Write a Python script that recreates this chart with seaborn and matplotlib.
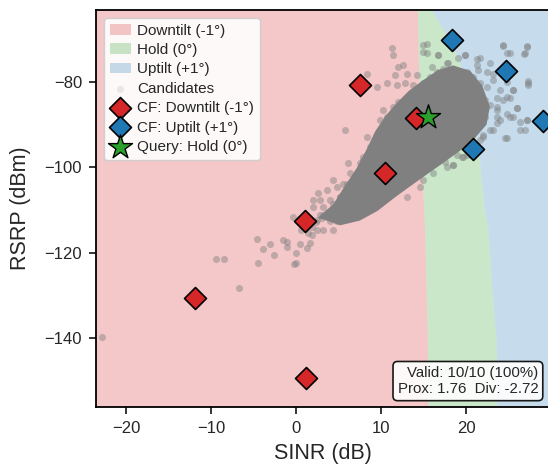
import matplotlib
matplotlib.use("Agg")
import matplotlib.pyplot as plt
import seaborn as sns

sns.set_style("ticks")
plt.rcParams["font.family"] = ["Liberation Sans", "DejaVu Sans"]

# decision regions: boundaries (SINR at given RSRP)
hold_edge_rsrp = [-160, -140, -115, -107, -95, -80, -60]
hold_edge_sinr = [15.6, 15.5, 15.2, 15.0, 14.8, 14.5, 14.3]
up_edge_rsrp = [-160, -141.3, -125.8, -114, -110, -100, -94.3, -84.2, -74.8, -70.1, -66.6, -63.1, -60]
up_edge_sinr = [23.7, 23.6, 23.0, 22.6, 22.2, 21.7, 21.4, 20.5, 19.2, 18.1, 17.0, 16.0, 15.2]

# dense core of the candidate cloud (outline)
core_sinr = [2.6, 4.4, 5.6, 7.1, 8.3, 9.3, 10.5, 11.9, 13.3, 15.0, 16.7, 18.5, 20.5, 21.9,
             22.8, 22.4, 21.1, 19.5, 17.5, 15.5, 13.6, 11.6, 9.6, 7.5, 5.2]
core_rsrp = [-111.8, -108.6, -104.8, -100.3, -95.8, -91.6, -88.0, -84.8, -82.0, -79.5,
             -77.2, -76.1, -77.4, -80.8, -85.8, -90.0, -93.0, -95.8, -98.7, -101.5,
             -104.2, -107.1, -110.2, -112.5, -113.6]

# scattered candidates around the core
cand_sinr = [11.25, 11.45, 12.04, 12.63, 13.02, 11.65, 10.67, 9.49, 8.31, 11.84, 12.82,
             14.20, 13.80, 14.98, 15.37, 16.75, 17.73, 15.96,
             19.88, 21.25, 21.65, 22.82, 23.22, 22.43, 24.0, 24.78, 25.57, 23.61, 24.78,
             25.57, 25.96, 27.14, 26.35, 24.78, 23.22, 22.04, 23.61, 27.33, 26.94, 27.14,
             24.39, 25.18,
             5.76, 8.31, 9.88, 10.27, 10.67, 8.71, 7.92, 7.53, 6.35, 5.96, 5.18, 4.39,
             2.82, 2.04, 3.61, 4.0, 5.37, 6.35, 7.14, 9.10,
             13.02, 14.59, 14.98, 16.16, 17.73, 18.51, 19.49, 20.08, 21.65,
             -4.63, -3.92, -3.06, -1.49, -1.02, -1.02, -0.39, 0.0, -0.04, 0.47, 1.25,
             1.65, 1.84, 2.43, 3.22, 4.39, 4.78, 3.80, 3.22, 4.0, 2.04, 2.63, 3.61, 4.78,
             5.57, 6.16, 7.14, 7.92, 8.31, 9.10, 8.71, 6.35, 7.14, 6.16, 2.82, 4.39, 5.18,
             7.53, 8.31,
             -22.8, -6.67, -9.45, -8.47, -4.51, -2.63, -0.3,
             15.37, 14.98, 16.75, 17.92, 19.10, 19.88, 21.25, 24.39, 24.86, 27.14, 26.82,
             20.08, 21.45, 22.43, 23.22, 24.78, 25.57, 24.39, 25.18, 23.61, 22.82, 23.61,
             22.24, 25.96, 24.0, 25.18, 26.35, 27.14, 27.33, 27.33, 26.9, 24.59, 23.61,
             22.82, 22.04, 19.69, 18.51, 18.90, 17.53,
             9.49, 10.27, 11.06, 9.88, 9.10, 8.71, 11.84, 12.43, 13.02, 13.80, 14.59,
             15.37, 16.16, 16.94, 17.73, 11.45, 12.04, 13.41, 14.20, 14.98, 15.76, 16.55,
             17.33, 10.67, 8.31, 7.92, 7.53, 6.75, 5.96, 5.18, 4.39, 3.22, 2.43, 1.65,
             21.25, 20.67, 19.69, 18.51, 17.73, 16.55, 15.76, 14.59, 13.80, 12.63, 11.45,
             10.27, 9.49, 8.31, 7.53, 22.04, 22.24, 21.65, 20.86, 19.69,
             1.2, 0.6, 1.9, 2.3, 3.0, 1.4]
cand_rsrp = [-71.9, -73.7, -76.4, -76.0, -78.0, -78.4, -80.3, -81.1, -78.0, -80.7, -80.3,
             -78.4, -80.7, -71.3, -73.3, -73.7, -75.6, -76.4,
             -73.7, -76.0, -74.4, -75.6, -78.0, -81.1, -81.9, -83.4, -81.9, -85.8, -87.4,
             -88.1, -86.2, -88.9, -91.3, -93.2, -91.3, -92.8, -88.1, -80.3, -73.3, -71.7,
             -71.3, -73.3,
             -91.3, -92.8, -88.9, -86.6, -91.3, -95.2, -97.5, -99.1, -101.4, -103.8,
             -106.9, -108.5, -107.7, -109.2, -110.8, -112.7, -110.4, -110.0, -110.8, -106.9,
             -106.9, -104.6, -103.0, -101.4, -99.9, -99.5, -97.5, -97.1, -93.6,
             -116.9, -119.1, -118.1, -117.1, -117.5, -118.7, -111.6, -122.4, -120.2, -118.0,
             -119.0, -117.7, -115.9, -114.7, -114.7, -114.7, -112.6, -110.4, -109.3, -107.7,
             -107.7, -106.1, -105.3, -104.6, -103.8, -99.1, -101.4, -98.3, -97.1, -99.1,
             -100.7, -106.1, -108.5, -112.0, -111.2, -103.0, -106.9, -105.3, -103.0,
             -139.9, -128.3, -121.6, -121.6, -122.5, -120.6, -122.6,
             -71.1, -72.9, -73.7, -75.6, -74.4, -73.7, -74.7, -71.5, -73.1, -71.5, -73.5,
             -77.6, -77.2, -77.6, -79.5, -79.9, -81.9, -84.2, -83.8, -83.8, -85.4, -86.6,
             -88.1, -86.2, -88.9, -88.1, -89.3, -88.9, -80.7, -79.8, -91.3, -93.2, -89.7,
             -91.3, -92.4, -97.5, -99.5, -97.1, -98.7,
             -93.6, -92.1, -90.5, -95.2, -96.7, -99.1, -88.1, -87.0, -85.4, -84.2, -83.1,
             -81.9, -80.3, -78.7, -78.0, -85.8, -84.6, -82.7, -81.9, -80.3, -78.7, -77.6,
             -77.0, -88.1, -100.7, -102.2, -103.8, -105.4, -106.9, -108.5, -109.7, -111.2,
             -112.4, -113.2,
             -90.5, -92.4, -93.6, -95.6, -96.7, -98.3, -99.5, -101.0, -102.2, -103.8, -105.4,
             -106.9, -108.1, -109.3, -110.0, -87.4, -84.2, -80.3, -78.7, -77.6,
             -113.5, -114.6, -113.9, -112.9, -112.0, -115.4]

# counterfactuals and query
cf_down_sinr = [7.57, 14.15, 10.47, 1.06, -11.9, 1.18]
cf_down_rsrp = [-80.8, -88.4, -101.4, -112.5, -130.6, -149.5]
cf_up_sinr = [18.35, 24.7, 29.1, 20.86]
cf_up_rsrp = [-70.1, -77.4, -89.2, -95.6]
query_sinr = [15.56]
query_rsrp = [-88.1]

x_min, x_max = -23.53, 29.88
y_min, y_max = -156.3, -63.1

red, green, blue = "#d62728", "#2ca02c", "#1f77b4"

fig = plt.figure(figsize=(5.48, 4.68), dpi=100)
ax = fig.add_axes([0.1752, 0.1297, 0.8286, 0.8489])

lo, hi = -40, 45
ax.fill([lo] + hold_edge_sinr + [lo], [-160] + hold_edge_rsrp + [-60],
        color=red, alpha=0.25, lw=0, zorder=0, label="Downtilt (-1°)")
ax.fill(hold_edge_sinr + up_edge_sinr[::-1], hold_edge_rsrp + up_edge_rsrp[::-1],
        color=green, alpha=0.25, lw=0, zorder=0, label="Hold (0°)")
ax.fill(up_edge_sinr + [hi, hi], up_edge_rsrp + [-60, -160],
        color=blue, alpha=0.25, lw=0, zorder=0, label="Uptilt (+1°)")

ax.fill(core_sinr, core_rsrp, color="gray", lw=0, zorder=1)
sns.scatterplot(x=cand_sinr, y=cand_rsrp, color="gray", s=26, alpha=0.45,
                linewidth=0, zorder=2, ax=ax)
ax.scatter([], [], color="gray", s=26, alpha=0.15, linewidth=0, label="Candidates")

sns.scatterplot(x=cf_down_sinr, y=cf_down_rsrp, marker="D", s=125, color=red,
                edgecolor="black", linewidth=1.2, zorder=4, ax=ax,
                label="CF: Downtilt (-1°)")
sns.scatterplot(x=cf_up_sinr, y=cf_up_rsrp, marker="D", s=125, color=blue,
                edgecolor="black", linewidth=1.2, zorder=4, ax=ax,
                label="CF: Uptilt (+1°)")
sns.scatterplot(x=query_sinr, y=query_rsrp, marker="*", s=330, color=green,
                edgecolor="black", linewidth=1.0, zorder=5, ax=ax,
                label="Query: Hold (0°)")

ax.set_xlim(x_min, x_max)
ax.set_ylim(y_min, y_max)
ax.set_xticks([-20, -10, 0, 10, 20])
ax.set_yticks([-140, -120, -100, -80])
ax.tick_params(labelsize=12, length=5, width=1.1, pad=5, color="black")
for sp in ax.spines.values():
    sp.set_linewidth(1.3)
    sp.set_color("black")
ax.set_xlabel("SINR (dB)", fontsize=15.5, labelpad=5)
ax.set_ylabel("RSRP (dBm)", fontsize=15.5, labelpad=10)

handles, labels = ax.get_legend_handles_labels()
order = ["Downtilt (-1°)", "Hold (0°)", "Uptilt (+1°)", "Candidates",
         "CF: Downtilt (-1°)", "CF: Uptilt (+1°)", "Query: Hold (0°)"]
lookup = dict(zip(labels, handles))
ax.legend([lookup[k] for k in order], order, loc="upper left", fontsize=11,
          handlelength=1.4, labelspacing=0.35, handletextpad=0.4, borderpad=0.4,
          framealpha=0.9, edgecolor="0.8")

ax.text(0.974, 0.028, "Valid: 10/10 (100%)\nProx: 1.76  Div: -2.72",
        transform=ax.transAxes, ha="right", va="bottom", fontsize=10.8,
        multialignment="right", zorder=6,
        bbox=dict(boxstyle="round,pad=0.3", facecolor="white", edgecolor="black",
                  alpha=0.9, linewidth=1.2))

fig.savefig("out.png", dpi=100)
